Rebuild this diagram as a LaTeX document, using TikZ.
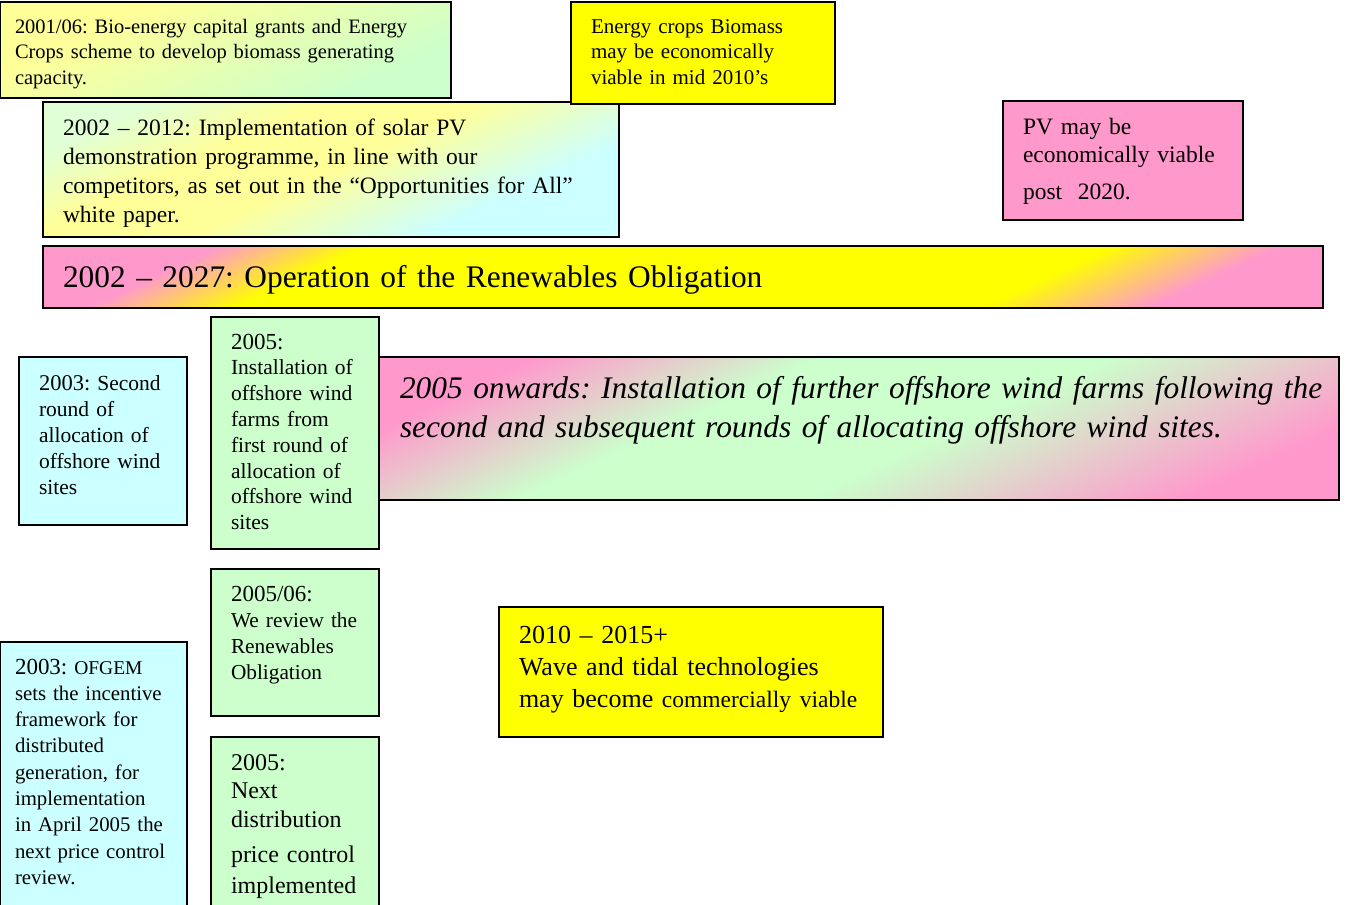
\documentclass[tikz,border=0pt]{standalone}
\usepackage{fontspec}
\setmainfont{Liberation Serif}
\usetikzlibrary{shadings}
\definecolor{ltyellow}{HTML}{FFFF99}
\definecolor{ltgreen}{HTML}{CCFFCC}
\definecolor{ltcyan}{HTML}{CCFFFF}
\definecolor{rose}{HTML}{FF99CC}
\definecolor{yel}{HTML}{FFFF00}
\pgfdeclarehorizontalshading{ygshade}{100bp}{color(0bp)=(ltyellow); color(25bp)=(ltyellow); color(32bp)=(ltyellow); color(72bp)=(ltgreen); color(100bp)=(ltgreen)}
\pgfdeclarehorizontalshading{cycshade}{100bp}{color(0bp)=(ltcyan!60!ltyellow); color(25bp)=(ltcyan!60!ltyellow); color(38bp)=(ltyellow); color(50bp)=(ltyellow); color(68bp)=(ltcyan); color(100bp)=(ltcyan)}
\pgfdeclarehorizontalshading{pypshade}{100bp}{color(0bp)=(rose); color(25bp)=(rose); color(32bp)=(yel); color(67bp)=(yel); color(75bp)=(rose); color(100bp)=(rose)}
\pgfdeclarehorizontalshading{pgpshade}{100bp}{color(0bp)=(rose); color(25bp)=(rose); color(40bp)=(ltgreen); color(55bp)=(ltgreen); color(75bp)=(rose); color(100bp)=(rose)}
\newcommand{\fs}[2]{\fontsize{#1}{#2}\selectfont}
\begin{document}
\frenchspacing
\begin{tikzpicture}[x=1pt,y=-1pt,
  box/.style={draw=black, line width=2pt, anchor=north west, inner sep=0pt, outer sep=0pt},
  gradbox/.style={box, shade, shading=#1, shading angle=-65},
  txt/.style={anchor=base west, inner sep=0pt, outer sep=0pt, align=left, text width=#1}]
\useasboundingbox (0,0) rectangle (1347,905);
\clip (0,0) rectangle (1347,905);
% top row
\node[gradbox=ygshade, minimum width=451pt, minimum height=96pt] (boxa) at (0,2) {};
\node[txt=440pt, font=\fs{20.5}{25.5}] (texta) at (15,33)
  {2001/06: Bio-energy capital grants and Energy\\ Crops scheme to develop biomass generating\\ capacity.};
\node[gradbox=cycshade, minimum width=576pt, minimum height=135pt] (boxc) at (43,102) {};
\node[txt=560pt, font=\fs{23.5}{29}] (textc) at (63,135)
  {2002 – 2012: Implementation of solar PV\\ demonstration programme, in line with our\\ competitors, as set out in the “Opportunities for All”\\ white paper.};
\node[box, fill=yel, minimum width=264pt, minimum height=102pt] (boxb) at (571,2) {};
\node[txt=250pt, font=\fs{21}{25.5}] (textb) at (591,33)
  {Energy crops Biomass\\ may be economically\\ viable in mid 2010’s};
\node[box, fill=rose, minimum width=240pt, minimum height=119pt] (boxd) at (1003,101) {};
\node[txt=230pt, font=\fs{23.5}{28}] (textd) at (1023,134)
  {PV may be\\ economically viable\\[9pt] post\ \ 2020.};
% renewables obligation bar
\node[gradbox=pypshade, minimum width=1280pt, minimum height=62pt] (boxe) at (43,246) {};
\node[txt=1200pt, font=\fs{31.4}{38}] (texte) at (63,287)
  {2002 – 2027: Operation of the Renewables Obligation};
% offshore wind
\node[box, fill=ltcyan, minimum width=168pt, minimum height=168pt] (boxf) at (19,357) {};
\node[txt=160pt, font=\fs{21.5}{26}] (textf) at (39,390)
  {{\fs{22.5}{26}2003:} Second\\ round of\\ allocation of\\ offshore wind\\ sites};
\node[box, fill=ltgreen, minimum width=168pt, minimum height=232pt] (boxg) at (211,317) {};
\node[txt=160pt, font=\fs{21.5}{25.8}] (textg) at (231,349)
  {{\fs{23}{25.8}2005:}\\ Installation of\\ offshore wind\\ farms from\\ first round of\\ allocation of\\ offshore wind\\ sites};
\node[gradbox=pgpshade, minimum width=960pt, minimum height=143pt] (boxh) at (379,357) {};
\node[txt=960pt, font=\fs{31.4}{39}\itshape] (texth) at (400,398)
  {2005 onwards: Installation of further offshore wind farms following the\\ second and subsequent rounds of allocating offshore wind sites.};
% lower boxes
\node[box, fill=ltgreen, minimum width=168pt, minimum height=147pt] (boxi) at (211,569) {};
\node[txt=160pt, font=\fs{21.3}{26}] (texti) at (231,601)
  {{\fs{23}{26}2005/06:}\\ We review the\\ Renewables\\ Obligation};
\node[box, fill=ltcyan, minimum width=187pt, minimum height=300pt] (boxj) at (0,642) {};
\node[txt=180pt, font=\fs{20.8}{26.3}] (textj) at (15,674)
  {{\fs{23}{26.3}2003:} {\fs{19.5}{26.3}OFGEM}\\ sets the incentive\\ framework for\\ distributed\\ generation, for\\ implementation\\ in April 2005 the\\ next price control\\ review.};
\node[box, fill=ltgreen, minimum width=168pt, minimum height=200pt] (boxk) at (211,737) {};
\node[txt=160pt, font=\fs{24}{28.5}] (textk) at (231,770)
  {2005:\\ Next\\ distribution\\[7pt] price control\\[2.5pt] implemented};
\node[box, fill=yel, minimum width=384pt, minimum height=130pt] (boxl) at (499,607) {};
\node[txt=370pt, font=\fs{26}{32}] (textl) at (519,643)
  {2010 – 2015+\\ Wave and tidal technologies\\ may become {\fs{23.5}{32}commercially viable}};
\end{tikzpicture}
\end{document}
